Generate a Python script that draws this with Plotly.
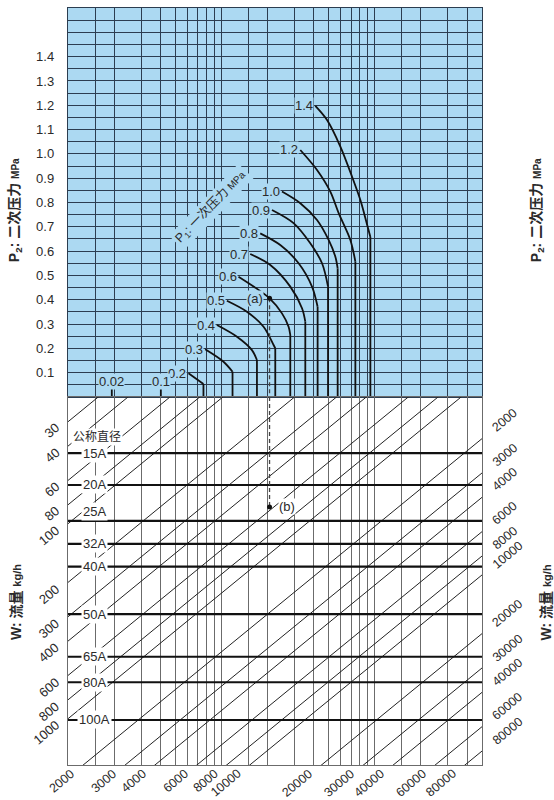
import math
import plotly.graph_objects as go

# ---------------- data ----------------
# vertical grid of the (unlabelled) horizontal scale, log spaced
k_grid = [1.5, 2, 3, 4, 5, 6, 7, 8, 9, 10, 15, 20, 30, 40, 50, 60, 70, 80, 90,
          100, 150, 200, 300, 400]
k_min, k_max = 1, 500

# P2 (secondary pressure, MPa)
p2_grid = [round(0.05 * i, 2) for i in range(1, 32)]
p2_labels = [round(0.1 * i, 1) for i in range(1, 15)]
p2_max = 1.6

# P1 (primary pressure) curves
p1_names = ["1.4", "1.2", "1.0", "0.9", "0.8", "0.7", "0.6", "0.5", "0.4",
            "0.3", "0.2", "0.1", "0.02"]
p1_curve_k = [
    [40.96, 48.84, 59.65, 71.09, 80.54, 88.16, 93.60, 93.60],
    [32.69, 42.02, 51.31, 58.15, 69.29, 74.71, 74.71],
    [24.83, 32.69, 42.02, 50.02, 55.33, 57.28, 57.28],
    [21.37, 29.55, 37.98, 45.29, 49.57, 49.57],
    [17.92, 24.20, 31.87, 38.97, 42.40, 42.40],
    [15.42, 20.83, 28.13, 33.54, 35.24, 35.24],
    [12.93, 20.61, 24.83, 27.42, 28.13, 28.13],
    [10.86, 14.67, 18.83, 21.89, 22.45, 22.45],
    [9.35, 12.63, 15.82, 17.05, 17.05],
    [7.84, 10.32, 11.82, 11.82],
    [6.10, 7.64, 7.64],
    [4.03, 4.03],
    [1.93, 1.93],
]
p1_curve_p2 = [
    [1.197, 1.139, 1.030, 0.906, 0.810, 0.720, 0.658, 0],
    [1.016, 0.934, 0.845, 0.756, 0.646, 0.557, 0],
    [0.845, 0.797, 0.728, 0.646, 0.577, 0.529, 0],
    [0.769, 0.715, 0.632, 0.550, 0.454, 0],
    [0.673, 0.625, 0.550, 0.454, 0.371, 0],
    [0.588, 0.543, 0.454, 0.365, 0.310, 0],
    [0.495, 0.406, 0.344, 0.289, 0.255, 0],
    [0.396, 0.351, 0.289, 0.214, 0.200, 0],
    [0.296, 0.248, 0.193, 0.152, 0],
    [0.196, 0.145, 0.104, 0],
    [0.0975, 0.0535, 0],
    [0.033, 0],
    [0.033, 0],
]

# W: flow (kg/h) diagonal lines
flow_lines = [30, 40, 60, 80, 100, 200, 300, 400, 600, 800, 1000,
              2000, 3000, 4000, 6000, 8000, 10000, 20000, 30000, 40000, 60000, 80000]
flow_left_labels = [30, 40, 60, 80, 100, 200, 300, 400, 600, 800, 1000]
flow_right_labels = [2000, 3000, 4000, 6000, 8000, 10000, 20000, 30000, 40000, 60000, 80000]
flow_bottom_labels = [2000, 3000, 4000, 6000, 8000, 10000, 20000, 30000, 40000, 60000, 80000]
flow_exponent = 0.6437          # chart relation W = Y * K^exponent
size_scale_range = [1727, 22.4]  # lower panel scale (bottom, top)

# nominal diameters
pipe_names = ["15A", "20A", "25A", "32A", "40A", "50A", "65A", "80A", "100A"]
pipe_values = [43.5, 63.3, 96.8, 127, 166, 291, 481, 650, 1015]

# worked example
example_k = 20.6
example_p2 = 0.406
example_b = 82

# ---------------- styles ----------------
FONT = "Liberation Sans, Arial, Noto Sans CJK SC, sans-serif"
BLUE = "#acd9f2"
GRID_TOP = "#2c3d50"
GRID_BOT = "#6b6b6b"
TXT = "#2a2a2a"
split = 368 / 757
WANG = -40

fig = go.Figure()
lg = math.log10

# P1 curves
for name, ks, ps in zip(p1_names, p1_curve_k, p1_curve_p2):
    if len(ks) > 2:
        fig.add_trace(go.Scatter(x=ks[:-1], y=ps[:-1], mode="lines",
                                 line=dict(color="#111", width=1.8, shape="spline", smoothing=0.9),
                                 xaxis="x", yaxis="y", showlegend=False, hoverinfo="skip"))
    fig.add_trace(go.Scatter(x=ks[-2:], y=ps[-2:], mode="lines",
                             line=dict(color="#111", width=1.8),
                             xaxis="x", yaxis="y", showlegend=False, hoverinfo="skip"))

# diagonal flow lines (lower panel)
for w in flow_lines:
    ks = [k_min, k_max]
    ys = [w / k ** flow_exponent for k in ks]
    fig.add_trace(go.Scatter(x=ks, y=ys, mode="lines",
                             line=dict(color="#222", width=1),
                             xaxis="x2", yaxis="y2", showlegend=False, hoverinfo="skip"))

# nominal diameter lines
for v in pipe_values:
    fig.add_trace(go.Scatter(x=[k_min, k_max], y=[v, v], mode="lines",
                             line=dict(color="#111", width=2.2),
                             xaxis="x2", yaxis="y2", showlegend=False, hoverinfo="skip"))

# worked example (a) -> (b)
fig.add_trace(go.Scatter(x=[example_k, example_k], y=[example_p2, 0], mode="lines",
                         line=dict(color="#444", width=1.3, dash="4px,3px"),
                         xaxis="x", yaxis="y", showlegend=False, hoverinfo="skip"))
fig.add_trace(go.Scatter(x=[example_k, example_k], y=[size_scale_range[1], example_b], mode="lines",
                         line=dict(color="#444", width=1.3, dash="4px,3px"),
                         xaxis="x2", yaxis="y2", showlegend=False, hoverinfo="skip"))
fig.add_trace(go.Scatter(x=[example_k], y=[example_p2], mode="markers",
                         marker=dict(color="#111", size=5), xaxis="x", yaxis="y",
                         showlegend=False, hoverinfo="skip"))
fig.add_trace(go.Scatter(x=[example_k], y=[example_b], mode="markers",
                         marker=dict(color="#111", size=5), xaxis="x2", yaxis="y2",
                         showlegend=False, hoverinfo="skip"))

ann = []
# curve labels
for name, ks, ps in zip(p1_names, p1_curve_k, p1_curve_p2):
    if len(ks) > 2:
        ann.append(dict(x=lg(ks[0]), y=ps[0], xref="x", yref="y", text=name,
                        showarrow=False, xanchor="right", yanchor="middle", xshift=-1,
                        font=dict(size=13, color=TXT, family=FONT), bgcolor=BLUE, borderpad=0))
    else:
        ann.append(dict(x=lg(ks[0]), y=ps[0], xref="x", yref="y", text=name,
                        showarrow=False, xanchor="center", yanchor="bottom", yshift=-1,
                        font=dict(size=13, color=TXT, family=FONT), bgcolor=BLUE, borderpad=0))

ann.append(dict(x=lg(example_k), y=example_p2, xref="x", yref="y", text="(a)",
                showarrow=False, xanchor="right", yanchor="middle", xshift=-6,
                font=dict(size=13, color=TXT, family=FONT), bgcolor=BLUE, borderpad=0))
ann.append(dict(x=lg(example_k), y=lg(example_b), xref="x2", yref="y2", text="(b)",
                showarrow=False, xanchor="left", yanchor="middle", xshift=8,
                font=dict(size=13, color=TXT, family=FONT), bgcolor="white", borderpad=0))

# P1 title in the blue panel
ann.append(dict(x=lg(8.6), y=0.78, xref="x", yref="y",
                text="P<sub>1</sub>: 一次压力 <span style='font-size:10px'>MPa</span>",
                showarrow=False, textangle=-46, xanchor="center", yanchor="middle",
                font=dict(size=12.5, color=TXT, family=FONT), bgcolor=BLUE, borderpad=2))

# pipe size labels
for name, v in zip(pipe_names, pipe_values):
    ann.append(dict(x=lg(1.478), y=lg(v), xref="x2", yref="y2", text=name,
                    showarrow=False, xanchor="center", yanchor="middle",
                    yshift=9 if name == "25A" else 0,
                    font=dict(size=13, color=TXT, family=FONT), bgcolor="white", borderpad=1))
ann.append(dict(x=lg(1.55), y=lg(size_scale_range[1]), xref="x2", yref="y2", text="公称直径",
                showarrow=False, xanchor="center", yanchor="middle", yshift=-40,
                font=dict(size=12, color=TXT, family=FONT), bgcolor="white", borderpad=1))

# flow labels
for w in flow_left_labels:
    ann.append(dict(x=lg(k_min), y=lg(w), xref="x2", yref="y2", text=str(w),
                    showarrow=False, textangle=WANG, xanchor="right", yanchor="top",
                    xshift=-3, yshift=4, font=dict(size=13, color=TXT, family=FONT)))
for w in flow_right_labels:
    ann.append(dict(x=lg(k_max), y=lg(w / k_max ** flow_exponent), xref="x2", yref="y2",
                    text=str(w), showarrow=False, textangle=WANG, xanchor="left",
                    yanchor="bottom", xshift=5, yshift=1,
                    font=dict(size=12.5, color=TXT, family=FONT)))
for w in flow_bottom_labels:
    kb = (w / size_scale_range[0]) ** (1 / flow_exponent)
    ann.append(dict(x=lg(kb), y=lg(size_scale_range[0]), xref="x2", yref="y2",
                    text=str(w), showarrow=False, textangle=WANG, xanchor="right",
                    yanchor="top", xshift=-3, yshift=1,
                    font=dict(size=12.5, color=TXT, family=FONT)))

# axis titles
p2_title = "<b>P<sub>2</sub>: 二次压力 <span style='font-size:10px'>MPa</span></b>"
w_title = "<b>W: 流量 <span style='font-size:11px'>kg/h</span></b>"
for xp, xw in ((-0.128, -0.126), (1.133, 1.155)):
    ann.append(dict(x=xp, y=0.733, xref="paper", yref="paper", text=p2_title,
                    xanchor="center", yanchor="middle",
                    showarrow=False, textangle=-90, font=dict(size=14, color=TXT, family=FONT)))
    ann.append(dict(x=xw, y=0.215, xref="paper", yref="paper", text=w_title,
                    xanchor="center", yanchor="middle",
                    showarrow=False, textangle=-90, font=dict(size=14, color=TXT, family=FONT)))

xr = [lg(k_min), lg(k_max)]
fig.update_layout(
    width=554, height=800,
    margin=dict(l=68, r=72, t=8, b=35),
    paper_bgcolor="white", plot_bgcolor="white",
    hovermode=False, showlegend=False,
    font=dict(family=FONT, color=TXT, size=13),
    xaxis=dict(type="log", range=xr, domain=[0, 1], anchor="y",
               tickvals=k_grid, showticklabels=False, ticks="",
               showgrid=True, gridcolor=GRID_TOP, gridwidth=1.4, zeroline=False,
               showline=True, linecolor=GRID_TOP, linewidth=1.4, mirror=True),
    yaxis=dict(domain=[split, 1], range=[0, p2_max], anchor="x",
               tickvals=p2_labels, ticktext=[f"{v:.1f}" for v in p2_labels],
               showgrid=False, zeroline=False,
               minor=dict(tickvals=p2_grid, showgrid=True, gridcolor=GRID_TOP,
                          gridwidth=1.4, ticks=""),
               ticks="", ticklabelstandoff=10,
               tickfont=dict(size=13, color=TXT, family=FONT),
               showline=True, linecolor=GRID_TOP, linewidth=1.4, mirror=True),
    yaxis3=dict(overlaying="y", side="right", anchor="x", range=[0, p2_max],
                tickvals=p2_labels, ticktext=[f"{v:.1f}" for v in p2_labels],
                showgrid=False, zeroline=False, ticks="", ticklabelstandoff=6,
                tickfont=dict(size=13, color=TXT, family=FONT), showline=False),
    xaxis2=dict(type="log", range=xr, domain=[0, 1], anchor="y2", matches="x",
                tickvals=k_grid, showticklabels=False, ticks="",
                showgrid=True, gridcolor=GRID_BOT, gridwidth=1.4, zeroline=False,
                showline=True, linecolor=GRID_BOT, linewidth=1.4, mirror=True),
    yaxis2=dict(type="log", domain=[0, split], anchor="x2",
                range=[lg(size_scale_range[0]), lg(size_scale_range[1])],
                showticklabels=False, ticks="", showgrid=False, zeroline=False,
                showline=True, linecolor=GRID_BOT, linewidth=1.4, mirror=True),
    shapes=[dict(type="rect", xref="x domain", yref="y domain", x0=0, x1=1, y0=0, y1=1,
                 fillcolor=BLUE, line=dict(width=0), layer="below")],
    annotations=ann,
)

fig.write_html("out.html")
